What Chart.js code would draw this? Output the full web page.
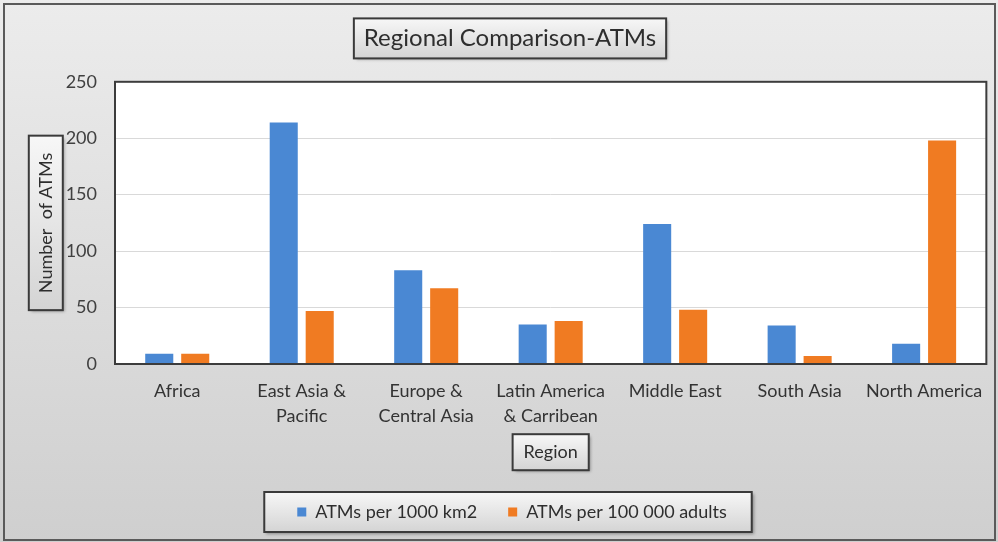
<!DOCTYPE html>
<html>
<head>
<meta charset="utf-8">
<script src="https://cdn.jsdelivr.net/npm/chart.js@4.4.1/dist/chart.umd.min.js"></script>
<style>
  html, body { margin: 0; padding: 0; background: #e4e4e4; }
  #wrap { width: 998px; height: 542px; }
  canvas { display: block; }
</style>
</head>
<body>
<div id="wrap"><canvas id="chart" width="998" height="542"></canvas></div>
<script>
// Regions on the category axis (multi-line labels)
const regions = [
  ['Africa'],
  ['East Asia &', 'Pacific'],
  ['Europe &', 'Central Asia'],
  ['Latin America', '& Carribean'],
  ['Middle East'],
  ['South Asia'],
  ['North America']
];
// Series values
const atmsPer1000Km2 = [9, 214, 83, 35, 124, 34, 18];
const atmsPer100kAdults = [9, 47, 67, 38, 48, 7, 198];
// Value axis ticks
const yTickValues = [0, 50, 100, 150, 200, 250];
// Texts
const seriesLabels = ['ATMs per 1000 km2', 'ATMs per 100 000 adults'];
const chartTitle = 'Regional Comparison-ATMs';
const yAxisTitle = 'Number  of ATMs';
const xAxisTitle = 'Region';

const FONT = 'Lato';
const BLUE = '#4a88d3';
const ORANGE = '#f07b22';

// Layout constants
const TITLE_FONT = { family: FONT, size: 24 };
const TITLE_PAD = { top: 24, bottom: 29 };
const Y_TITLE_FONT = { family: FONT, size: 18 };
const Y_TITLE_PAD = { top: 35, bottom: 0 };
const X_TITLE_FONT = { family: FONT, size: 18 };
const X_TITLE_PAD = { top: 0, bottom: 9 };
const LEGEND_PAD = 31;
const TITLE_CENTER_X = 510;
const LEGEND_CENTER_X = 512;

function lh(font) { return font.size * 1.2; }

function drawBox(ctx, x, y, w, h) {
  ctx.save();
  ctx.shadowColor = 'rgba(0,0,0,0.35)';
  ctx.shadowOffsetX = 2;
  ctx.shadowOffsetY = 2;
  ctx.shadowBlur = 3;
  const g = ctx.createLinearGradient(0, y, 0, y + h);
  g.addColorStop(0, '#f7f7f7');
  g.addColorStop(1, '#d4d4d4');
  ctx.fillStyle = g;
  ctx.fillRect(x, y, w, h);
  ctx.restore();
  ctx.save();
  ctx.strokeStyle = '#3a3a3a';
  ctx.lineWidth = 2;
  ctx.strokeRect(x, y, w, h);
  ctx.restore();
}

function textWidth(ctx, text, font) {
  ctx.save();
  ctx.font = font.size + 'px ' + font.family;
  const w = ctx.measureText(text).width;
  ctx.restore();
  return w;
}

// Background, framed boxes behind the titles/legend, and the plot frame
const framePlugin = {
  id: 'frame',
  afterLayout(chart) {
    const tb = chart.titleBlock;
    const ts = TITLE_CENTER_X - (tb.left + tb.right) / 2;
    tb.left += ts; tb.right += ts;

    const lg = chart.legend;
    const lw = lg.lineWidths[0];
    const current = (lg.left + LEGEND_PAD + lg.right - lw) / 2;
    const wanted = LEGEND_CENTER_X - (lw - LEGEND_PAD) / 2;
    lg.left += wanted - current; lg.right += wanted - current;
  },
  beforeDraw(chart) {
    const ctx = chart.ctx;
    const W = chart.width, H = chart.height;
    const bg = ctx.createLinearGradient(0, 0, 0, H);
    bg.addColorStop(0, '#ececec');
    bg.addColorStop(1, '#cfcfcf');
    ctx.fillStyle = bg;
    ctx.fillRect(0, 0, W, H);
    ctx.save();
    ctx.strokeStyle = '#5a5a5a';
    ctx.lineWidth = 2;
    ctx.strokeRect(4, 4, W - 7, H - 6);
    ctx.restore();

    const a = chart.chartArea;
    ctx.fillStyle = '#ffffff';
    ctx.fillRect(a.left, a.top, a.right - a.left, a.bottom - a.top);

    // chart title box
    const tb = chart.titleBlock;
    const tw = textWidth(ctx, chartTitle, TITLE_FONT);
    const tcx = (tb.left + tb.right) / 2;
    const tcy = tb.top + TITLE_PAD.top + lh(TITLE_FONT) / 2;
    drawBox(ctx, tcx - tw / 2 - 10, tcy - 20, tw + 20, 40);

    // y axis title box
    const ys = chart.scales.y;
    const yw = textWidth(ctx, yAxisTitle, Y_TITLE_FONT);
    const ycx = ys.left + Y_TITLE_PAD.top + lh(Y_TITLE_FONT) / 2;
    const ycy = (ys.top + ys.bottom) / 2;
    drawBox(ctx, ycx - 17, ycy - yw / 2 - 17, 34, yw + 34);

    // x axis title box
    const xs = chart.scales.x;
    const xw = textWidth(ctx, xAxisTitle, X_TITLE_FONT);
    const xcx = (xs.left + xs.right) / 2;
    const xcy = xs.bottom - X_TITLE_PAD.bottom - lh(X_TITLE_FONT) / 2;
    drawBox(ctx, xcx - xw / 2 - 11, xcy - 18, xw + 22, 36);

    // legend box
    const lg = chart.legend;
    const hb = lg.legendHitBoxes;
    const l0 = hb[0].left;
    const l1 = hb[hb.length - 1].left + hb[hb.length - 1].width;
    const lcy = hb[0].top + hb[0].height / 2;
    drawBox(ctx, l0 - 33, lcy - 20, (l1 - l0) + 58, 40);
  },
  afterDraw(chart) {
    const ctx = chart.ctx;
    const a = chart.chartArea;
    ctx.save();
    ctx.strokeStyle = '#3c3c3c';
    ctx.lineWidth = 2;
    ctx.strokeRect(a.left, a.top, a.right - a.left, a.bottom - a.top);
    ctx.restore();
  }
};

Chart.defaults.font.family = FONT;
Chart.defaults.color = '#333333';

new Chart(document.getElementById('chart'), {
  type: 'bar',
  data: {
    labels: regions,
    datasets: [
      { label: seriesLabels[0], data: atmsPer1000Km2, backgroundColor: BLUE },
      { label: seriesLabels[1], data: atmsPer100kAdults, backgroundColor: ORANGE }
    ]
  },
  options: {
    responsive: false,
    animation: false,
    devicePixelRatio: 1,
    layout: { padding: { left: 0, right: 11, top: 0, bottom: 11 } },
    datasets: {
      bar: { categoryPercentage: 0.578, barPercentage: 0.78 }
    },
    plugins: {
      title: {
        display: true,
        text: chartTitle,
        color: '#2e2e2e',
        font: { family: FONT, size: TITLE_FONT.size, weight: 'normal', lineHeight: 1.2 },
        padding: TITLE_PAD
      },
      legend: {
        position: 'bottom',
        labels: {
          boxWidth: 9,
          boxHeight: 9,
          padding: LEGEND_PAD,
          color: '#2e2e2e',
          font: { family: FONT, size: 18 }
        }
      },
      tooltip: { enabled: false }
    },
    scales: {
      x: {
        grid: { display: false, drawTicks: false },
        border: { display: false },
        ticks: {
          color: '#333333',
          padding: 15,
          maxRotation: 0,
          autoSkip: false,
          font: { family: FONT, size: 18, lineHeight: 1.39 }
        },
        title: {
          display: true,
          text: xAxisTitle,
          color: '#2e2e2e',
          font: { family: FONT, size: X_TITLE_FONT.size, lineHeight: 1.2 },
          padding: X_TITLE_PAD
        },
        afterFit(s) { s.height = 108; }
      },
      y: {
        min: 0,
        max: 250,
        grid: { color: '#d9d9d9', lineWidth: 1, drawTicks: false },
        border: { display: false },
        afterBuildTicks(s) { s.ticks = yTickValues.map(v => ({ value: v })); },
        ticks: {
          color: '#404040',
          padding: 18,
          font: { family: FONT, size: 18 }
        },
        title: {
          display: true,
          text: yAxisTitle,
          color: '#2e2e2e',
          font: { family: FONT, size: Y_TITLE_FONT.size, lineHeight: 1.2 },
          padding: Y_TITLE_PAD
        },
        afterFit(s) { s.width = 115; }
      }
    }
  },
  plugins: [framePlugin]
});
</script>
</body>
</html>
